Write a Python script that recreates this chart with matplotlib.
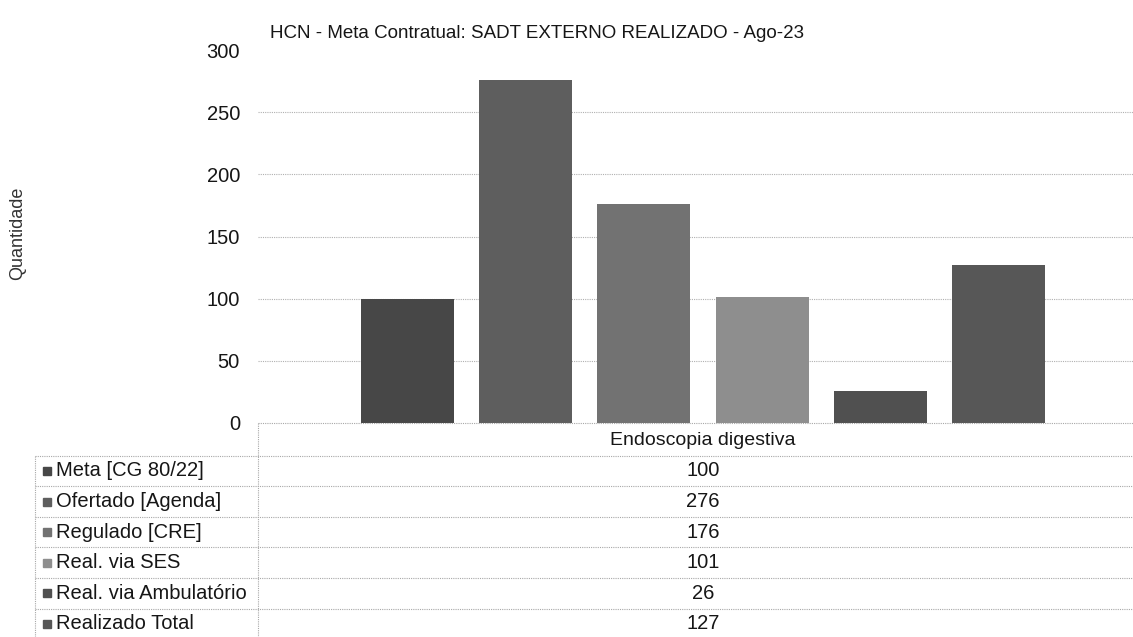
import numpy as np
import matplotlib.pyplot as plt

plt.rcParams['font.family'] = ['Liberation Sans', 'DejaVu Sans']

# data
title = 'HCN - Meta Contratual: SADT EXTERNO REALIZADO - Ago-23'
category = 'Endoscopia digestiva'
series = ['Meta [CG 80/22]', 'Ofertado [Agenda]', 'Regulado [CRE]',
          'Real. via SES', 'Real. via Ambulatório', 'Realizado Total']
values = [100, 276, 176, 101, 26, 127]
colors = ['#474747', '#5e5e5e', '#727272', '#8e8e8e', '#505050', '#575757']
yticks = [0, 50, 100, 150, 200, 250, 300]

W, H = 1133, 637
fig = plt.figure(figsize=(W / 100, H / 100), dpi=100)
txt = '#161616'

# plot area in pixels
x0, x1 = 258, 1148
y_top, y_zero = 50, 423
ax = fig.add_axes([x0 / W, 1 - y_zero / H, (x1 - x0) / W, (y_zero - y_top) / H])

bw = 0.1045
step = 0.1326
centers = 0.5 + (np.arange(len(values)) - (len(values) - 1) / 2) * step
ax.bar(centers, values, width=bw, color=colors, zorder=2)

ax.set_xlim(0, 1)
ax.set_ylim(0, 300)
ax.set_yticks(yticks)
ax.set_yticklabels([str(t) for t in yticks], fontsize=14.5, color=txt)
ax.tick_params(axis='y', length=0, pad=13)
ax.set_xticks([])
for s in ax.spines.values():
    s.set_visible(False)
for t in yticks[1:-1]:
    ax.axhline(t, color='#b0b0b0', lw=0.8, ls=(0, (1, 1)), zorder=1)

fig.text(18 / W, 1 - 233 / H, 'Quantidade', rotation=90, ha='center', va='center',
         fontsize=13, color='#333333')
fig.text(537 / W, 1 - 33 / H, title, ha='center', va='center', fontsize=13.5,
         color=txt)

# data table drawn in pixel coordinates
tb = fig.add_axes([0, 0, 1, 1])
tb.set_xlim(0, W)
tb.set_ylim(H, 0)
tb.axis('off')
grid_kw = dict(color='#a8a8a8', lw=0.8, ls=(0, (1, 1)))

row_h = 30.6
head_top = 425
rows_top = head_top + row_h
lbl_left = 35
val_x = x0 + 0.5 * (x1 - x0)

tb.plot([x0, W], [y_zero, y_zero], **grid_kw)
tb.plot([x0, x0], [y_zero, H], **grid_kw)
tb.plot([lbl_left, lbl_left], [rows_top, H], **grid_kw)
tb.text(val_x, head_top + row_h / 2, category, ha='center', va='center',
        fontsize=14, color=txt)
for i, (name, v, c) in enumerate(zip(series, values, colors)):
    top = rows_top + i * row_h
    tb.plot([lbl_left, W], [top, top], **grid_kw)
    yc = top + row_h / 2
    tb.add_patch(plt.Rectangle((43, yc - 4), 8, 8, color=c))
    tb.text(56, yc, name, ha='left', va='center', fontsize=14.5, color=txt)
    tb.text(val_x, yc, str(v), ha='center', va='center', fontsize=14.5, color=txt)

fig.savefig('out.png', dpi=100)
